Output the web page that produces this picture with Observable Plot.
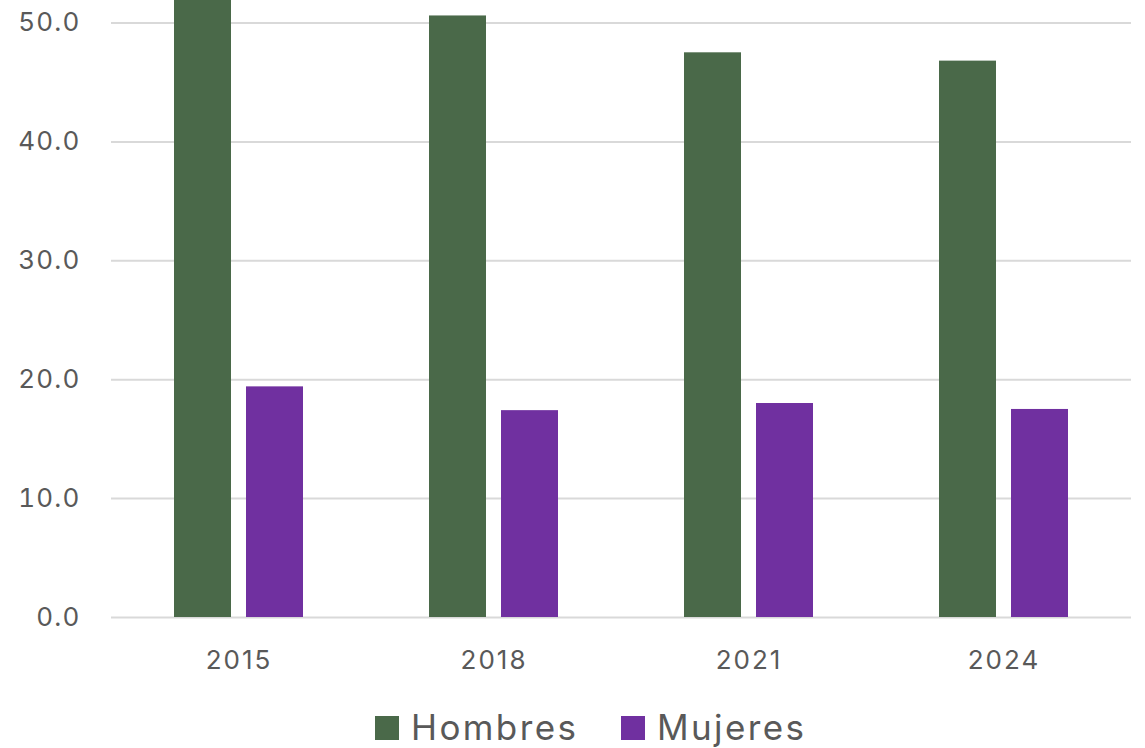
<!DOCTYPE html>
<html>
<head>
<meta charset="utf-8">
<script src="https://cdn.jsdelivr.net/npm/d3@7"></script>
<script src="https://cdn.jsdelivr.net/npm/@observablehq/plot@0.6"></script>
<style>
  html, body { margin: 0; padding: 0; background: #fff; }
  #wrap { position: relative; width: 1145px; height: 748px; overflow: hidden; font-family: Inter, "Noto Sans", sans-serif; }
  #legend { position: absolute; left: 0; top: 700px; width: 1145px; height: 48px; }
  .item { position: absolute; top: 0; display: flex; align-items: center; height: 48px; }
  .sw { width: 24px; height: 24px; margin-right: 12px; margin-top: 8px; }
  .lab { font-size: 35px; color: #595959; line-height: 48px; margin-top: 6px; letter-spacing: 2.4px; }
  .yl text { letter-spacing: 1.2px; }
  .xl text { letter-spacing: 2px; }
</style>
</head>
<body>
<div id="wrap">
  <div id="chart"></div>
  <div id="legend"></div>
</div>
<script>
const years = ["2015", "2018", "2021", "2024"];
const series = ["Hombres", "Mujeres"];
const hombres = [53.0, 50.6, 47.5, 46.8];
const mujeres = [19.4, 17.4, 18.0, 17.5];
const colors = ["#4a6949", "#7030a0"];
const yTicks = [0, 10, 20, 30, 40, 50];

const data = [];
years.forEach((y, i) => {
  data.push({year: y, serie: series[0], value: hombres[i]});
  data.push({year: y, serie: series[1], value: mujeres[i]});
});

const chart = Plot.plot({
  width: 1145,
  height: 700,
  marginLeft: 111,
  marginRight: 14,
  marginTop: 0,
  marginBottom: 83,
  style: {fontFamily: "Inter, 'Noto Sans', sans-serif", fontSize: "26px", color: "#595959", background: "#fff"},
  x: {domain: years, padding: 0, label: null},
  y: {domain: [0, 51.9], label: null},
  color: {domain: series, range: colors},
  marks: [
    Plot.ruleY(yTicks, {stroke: "#d9d9d9", strokeWidth: 2}),
    Plot.barY(data.filter(d => d.serie === series[0]), {
      x: "year", y: "value", fill: "serie", clip: true,
      insetLeft: 63, insetRight: 135
    }),
    Plot.barY(data.filter(d => d.serie === series[1]), {
      x: "year", y: "value", fill: "serie", clip: true,
      insetLeft: 135, insetRight: 63
    }),
    Plot.axisY({ticks: yTicks, tickFormat: d3.format(".1f"), tickSize: 0, tickPadding: 31, label: null, fill: "#595959", fontSize: 26, className: "yl"}),
    Plot.axisX({tickSize: 0, tickPadding: 33, label: null, fill: "#595959", fontSize: 26, className: "xl"})
  ]
});
document.getElementById("chart").appendChild(chart);

const legend = document.getElementById("legend");
const lefts = [375, 621];
series.forEach((s, i) => {
  const item = document.createElement("div");
  item.className = "item";
  item.style.left = lefts[i] + "px";
  const sw = document.createElement("div");
  sw.className = "sw";
  sw.style.background = colors[i];
  const lab = document.createElement("span");
  lab.className = "lab";
  lab.textContent = s;
  item.appendChild(sw);
  item.appendChild(lab);
  legend.appendChild(item);
});
</script>
</body>
</html>
